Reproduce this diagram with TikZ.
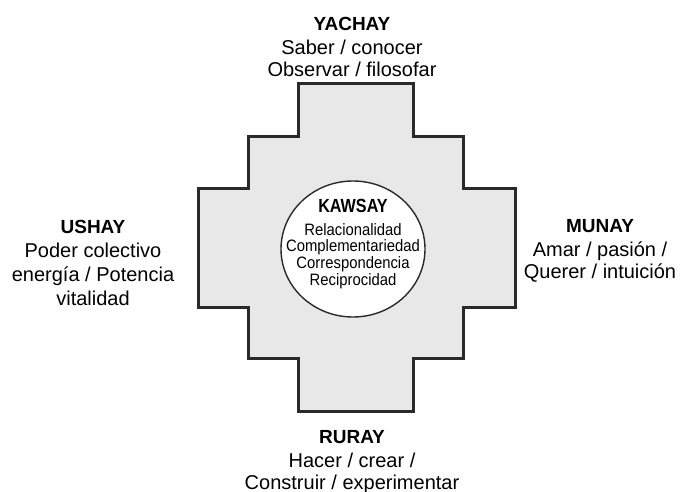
\documentclass[tikz,border=0pt]{standalone}
\usepackage{fontspec}
\setmainfont{Liberation Sans}
\newfontfamily\narrowfont[FakeStretch=0.9]{Liberation Sans}
\newfontfamily\narrowboldfont[FakeStretch=0.85]{Liberation Sans Bold}
\usetikzlibrary{shapes.geometric}
\definecolor{crossfill}{HTML}{E8E8E8}
\definecolor{crossline}{HTML}{2A2A2A}
\tikzset{
  title/.style={anchor=base,inner sep=0pt,font=\fontsize{19}{22}\selectfont\bfseries},
  body/.style={anchor=base,inner sep=0pt,font=\fontsize{20}{23}\selectfont},
  intitle/.style={anchor=base,inner sep=0pt,font=\fontsize{19}{20}\selectfont\narrowboldfont},
  inbody/.style={anchor=base,inner sep=0pt,font=\fontsize{16.5}{18}\selectfont\narrowfont},
  chakana/.style={fill=crossfill,draw=crossline,line width=3pt,line join=miter},
  center/.style={ellipse,draw=crossline,line width=1.4pt,fill=white,minimum width=144pt,minimum height=136pt,inner sep=0pt}
}
\begin{document}
\begin{tikzpicture}[x=1pt,y=-1pt]
\useasboundingbox (0,0) rectangle (680,492);
% chakana cross
\draw[chakana] (298,84) -- (413,84) -- (413,137) -- (463,137) -- (463,188) -- (515,188)
  -- (515,307) -- (463,307) -- (463,358) -- (413,358) -- (413,411) -- (298,411)
  -- (298,358) -- (248,358) -- (248,307) -- (198,307) -- (198,188) -- (248,188)
  -- (248,137) -- (298,137) -- cycle;
% central circle
\node[center] (kawsay) at (353,249) {};
\node[intitle] (kawsayT) at (353,212) {KAWSAY};
\node[inbody] (k1) at (353,235) {Relacionalidad};
\node[inbody] (k2) at (353,251) {Complementariedad};
\node[inbody] (k3) at (353,268) {Correspondencia};
\node[inbody] (k4) at (353,285) {Reciprocidad};
% top
\node[title] (yachay) at (352,31) {YACHAY};
\node[body] (y1) at (352,55) {Saber / conocer};
\node[body] (y2) at (352,77) {Observar / filosofar};
% bottom
\node[title] (ruray) at (352,443) {RURAY};
\node[body] (r1) at (352,467) {Hacer / crear /};
\node[body] (r2) at (352,489) {Construir / experimentar};
% left
\node[title] (ushay) at (93,233) {USHAY};
\node[body] (u1) at (93,257) {Poder colectivo};
\node[body] (u2) at (93,281) {energía / Potencia};
\node[body] (u3) at (93,305) {vitalidad};
% right
\node[title] (munay) at (600,232) {MUNAY};
\node[body] (m1) at (600,256) {Amar / pasión /};
\node[body] (m2) at (600,278) {Querer / intuición};
\end{tikzpicture}
\end{document}
